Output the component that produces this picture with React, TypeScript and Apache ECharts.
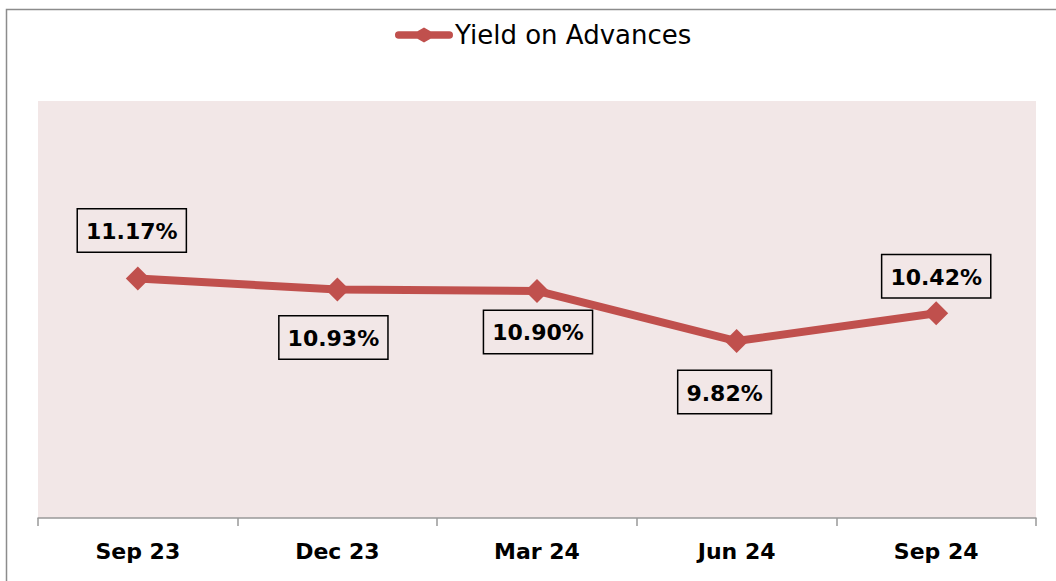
import React, { useEffect, useRef } from "react";
import * as echarts from "echarts";

const categories = ["Sep 23", "Dec 23", "Mar 24", "Jun 24", "Sep 24"];
const yieldValues = [11.17, 10.93, 10.9, 9.82, 10.42];
const labelPositions = ["top", "bottom", "bottom", "bottom", "top"];
const labelDistances = [15, 15, 8, 18, 4];
const labelShiftX = [-6, -4, 1, -12, 0];
const seriesName = "Yield on Advances";

export default function App() {
  const ref = useRef<HTMLDivElement>(null);
  useEffect(() => {
    if (!ref.current) return;
    const chart = echarts.init(ref.current, undefined, { renderer: "svg" });
    const font = "'DejaVu Sans', sans-serif";
    chart.setOption({
      animation: false,
      backgroundColor: "#ffffff",
      graphic: [
        {
          type: "rect",
          left: 4,
          top: 7,
          shape: { width: 1200, height: 700 },
          style: { fill: "none", stroke: "#8c8c8c", lineWidth: 1.5 },
          silent: true,
          z: -1,
        },
      ],
      legend: {
        top: 17,
        left: 390,
        itemWidth: 58,
        itemHeight: 16,
        icon: "path://M2,4 L22,4 L29,0 L36,4 L56,4 A4,4 0 0 1 56,12 L36,12 L29,16 L22,12 L2,12 A4,4 0 0 1 2,4 Z",
        textStyle: { fontFamily: font, fontSize: 26, color: "#000", padding: [0, 0, 0, -3] },
        data: [seriesName],
      },
      grid: {
        left: 38,
        right: 20,
        top: 101,
        bottom: 63,
        show: true,
        backgroundColor: "#f2e7e7",
        borderWidth: 0,
      },
      xAxis: {
        type: "category",
        data: categories,
        boundaryGap: true,
        axisLine: { lineStyle: { color: "#999999", width: 1.5 } },
        axisTick: { show: true, length: 8, lineStyle: { color: "#999999", width: 1.5 } },
        axisLabel: {
          fontFamily: font,
          fontSize: 22,
          fontWeight: "bold",
          color: "#000",
          margin: 22,
        },
      },
      yAxis: {
        type: "value",
        min: 6,
        max: 15,
        show: false,
        splitLine: { show: false },
      },
      series: [
        {
          name: seriesName,
          type: "line",
          data: yieldValues.map((v, i) => ({
            value: v,
            label: {
              position: labelPositions[i],
              distance: labelDistances[i],
              offset: [labelShiftX[i], 0],
            },
          })),
          symbol: "diamond",
          symbolSize: 24,
          lineStyle: { color: "#c0504d", width: 8 },
          itemStyle: { color: "#c0504d" },
          label: {
            show: true,
            formatter: (p: any) => p.value.toFixed(2) + "%",
            fontFamily: font,
            fontSize: 22,
            fontWeight: "bold",
            color: "#000",
            backgroundColor: "#f2e7e7",
            borderColor: "#000",
            borderWidth: 1.5,
            padding: [11, 8, 9, 8],
          },
        },
      ],
    });
    return () => chart.dispose();
  }, []);
  return <div ref={ref} style={{ width: 1056, height: 581, position: "absolute", left: 0, top: 0 }} />;
}
